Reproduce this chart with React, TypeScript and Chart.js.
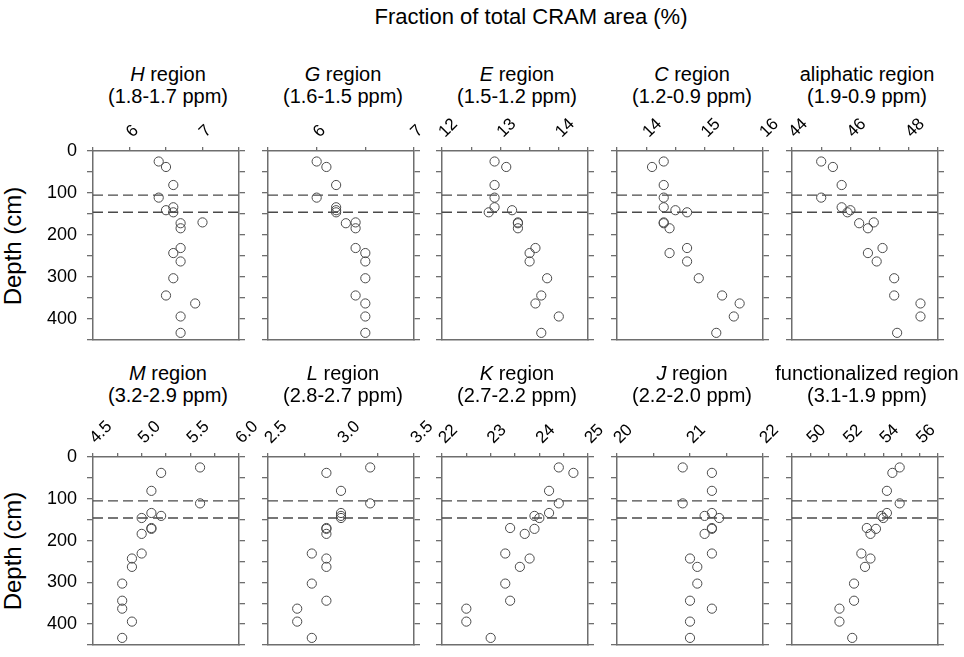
import { useEffect, useRef } from 'react';
import { Chart, registerables } from 'chart.js';

Chart.register(...registerables);

// sampling depths (cm), shared by every panel
const depths = [25, 38, 81, 111, 134, 141, 146, 170, 172, 184, 231, 243, 263, 303, 344, 363, 394, 433];
// horizons drawn as dashed lines
const boundaries = [105, 146];

// fraction of total CRAM area (%) per region, same order as depths
const hRegion = [6.4, 6.5, 6.6, 6.4, 6.6, 6.5, 6.6, 7.0, 6.7, 6.7, 6.7, 6.6, 6.7, 6.6, 6.5, 6.9, 6.7, 6.7];
const gRegion = [6.0, 6.1, 6.2, 6.0, 6.2, 6.2, 6.2, 6.4, 6.3, 6.4, 6.4, 6.5, 6.5, 6.5, 6.4, 6.5, 6.5, 6.5];
const eRegion = [12.9, 13.1, 12.9, 12.9, 12.9, 13.2, 12.8, 13.3, 13.3, 13.3, 13.6, 13.5, 13.5, 13.8, 13.7, 13.6, 14.0, 13.7];
const cRegion = [14.3, 14.1, 14.3, 14.3, 14.3, 14.5, 14.7, 14.3, 14.3, 14.4, 14.7, 14.4, 14.7, 14.9, 15.3, 15.6, 15.5, 15.2];
const aliphatic = [45.0, 45.4, 45.7, 45.0, 45.7, 46.0, 45.9, 46.8, 46.3, 46.6, 47.1, 46.6, 46.9, 47.5, 47.5, 48.4, 48.4, 47.6];
const mRegion = [5.6, 5.2, 5.1, 5.6, 5.1, 5.2, 5.0, 5.1, 5.1, 5.0, 5.0, 4.9, 4.9, 4.8, 4.8, 4.8, 4.9, 4.8];
const lRegion = [3.2, 2.9, 3.0, 3.2, 3.0, 3.0, 3.0, 2.9, 2.9, 2.9, 2.8, 2.9, 2.9, 2.8, 2.9, 2.7, 2.7, 2.8];
const kRegion = [24.4, 24.7, 24.2, 24.4, 24.2, 23.9, 24.0, 23.4, 23.9, 23.7, 23.3, 23.8, 23.6, 23.3, 23.4, 22.5, 22.5, 23.0];
const jRegion = [20.9, 21.3, 21.3, 20.9, 21.3, 21.2, 21.4, 21.3, 21.3, 21.2, 21.3, 21.0, 21.1, 21.1, 21.0, 21.3, 21.0, 21.0];
const functionalized = [54.9, 54.5, 54.2, 54.9, 54.2, 53.9, 54.0, 53.1, 53.6, 53.3, 52.8, 53.3, 53.0, 52.4, 52.4, 51.6, 51.6, 52.3];

// labelled x ticks
const hTicks = ['6', '7'];
const gTicks = ['6', '7'];
const eTicks = ['12', '13', '14'];
const cTicks = ['14', '15', '16'];
const aliphaticTicks = ['44', '46', '48'];
const mTicks = ['4.5', '5.0', '5.5', '6.0'];
const lTicks = ['2.5', '3.0', '3.5'];
const kTicks = ['22', '23', '24', '25'];
const jTicks = ['20', '21', '22'];
const functionalizedTicks = ['50', '52', '54', '56'];

const depthLabels = ['0', '100', '200', '300', '400'];

type PanelSpec = {
  letter?: string;
  name: string;
  ppm: string;
  values: number[];
  labels: string[];
  min: number;
  max: number;
  step: number;
};

const topRow: PanelSpec[] = [
  { letter: 'H', name: ' region', ppm: '(1.8-1.7 ppm)', values: hRegion, labels: hTicks, min: 5.5, max: 7.5, step: 0.5 },
  { letter: 'G', name: ' region', ppm: '(1.6-1.5 ppm)', values: gRegion, labels: gTicks, min: 5.5, max: 7, step: 0.5 },
  { letter: 'E', name: ' region', ppm: '(1.5-1.2 ppm)', values: eRegion, labels: eTicks, min: 12, max: 14.5, step: 0.5 },
  { letter: 'C', name: ' region', ppm: '(1.2-0.9 ppm)', values: cRegion, labels: cTicks, min: 13.5, max: 16, step: 0.5 },
  { name: 'aliphatic region', ppm: '(1.9-0.9 ppm)', values: aliphatic, labels: aliphaticTicks, min: 44, max: 49, step: 1 },
];

const bottomRow: PanelSpec[] = [
  { letter: 'M', name: ' region', ppm: '(3.2-2.9 ppm)', values: mRegion, labels: mTicks, min: 4.5, max: 6, step: 0.25 },
  { letter: 'L', name: ' region', ppm: '(2.8-2.7 ppm)', values: lRegion, labels: lTicks, min: 2.5, max: 3.5, step: 0.25 },
  { letter: 'K', name: ' region', ppm: '(2.7-2.2 ppm)', values: kRegion, labels: kTicks, min: 22, max: 25, step: 0.5 },
  { letter: 'J', name: ' region', ppm: '(2.2-2.0 ppm)', values: jRegion, labels: jTicks, min: 20, max: 22, step: 0.5 },
  { name: 'functionalized region', ppm: '(3.1-1.9 ppm)', values: functionalized, labels: functionalizedTicks, min: 49, max: 57, step: 1 },
];

const FONT = "Arial, 'Liberation Sans', Helvetica, sans-serif";
const AXIS = '#6e6e6e';
const MARK = '#4a4a4a';

const COL_LEFT = [93, 268, 442, 617, 792];
const BOX_W = 146;
const ROWS = [
  { top: 151, height: 189, titleTop: 63, depthMid: 246 },
  { top: 457, height: 188, titleTop: 362, depthMid: 551 },
];

// room around the plot box inside each canvas
const PAD_L = 60;
const PAD_R = 36;
const PAD_T = 50;
const PAD_B = 8;

function Panel({ spec, left, top, height, showY }: { spec: PanelSpec; left: number; top: number; height: number; showY: boolean }) {
  const canvasRef = useRef<HTMLCanvasElement>(null);
  const w = PAD_L + BOX_W + PAD_R;
  const h = PAD_T + height + PAD_B;

  useEffect(() => {
    if (!canvasRef.current) return;
    const yGrid = { display: true, drawOnChartArea: false, drawTicks: true, tickLength: 6, color: AXIS, lineWidth: 1.3 };
    const border = { display: true, color: AXIS, width: 1.5 };

    const chart = new Chart(canvasRef.current, {
      type: 'scatter',
      data: {
        datasets: [
          {
            data: spec.values.map((v, i) => ({ x: v, y: depths[i] })),
            xAxisID: 'x',
            yAxisID: 'y',
            pointRadius: 4.6,
            pointBorderWidth: 1,
            pointBorderColor: MARK,
            pointBackgroundColor: 'rgba(0,0,0,0)',
            showLine: false,
          },
          ...boundaries.map(b => ({
            data: [{ x: spec.min, y: b }, { x: spec.max, y: b }],
            xAxisID: 'x',
            yAxisID: 'y',
            showLine: true,
            borderColor: MARK,
            borderWidth: 1.4,
            borderDash: [10, 5],
            pointRadius: 0,
          })),
        ],
      },
      options: {
        animation: false,
        responsive: false,
        events: [],
        layout: { padding: 0 },
        plugins: { legend: { display: false }, tooltip: { enabled: false } },
        scales: {
          x: {
            type: 'linear',
            position: 'top',
            min: spec.min,
            max: spec.max,
            afterFit: (s: any) => { s.height = PAD_T; s.paddingLeft = 0; s.paddingRight = 0; },
            ticks: {
              stepSize: spec.step,
              autoSkip: false,
              minRotation: 45,
              maxRotation: 45,
              padding: 5,
              labelOffset: 14,
              color: '#000',
              font: { family: FONT, size: 17 },
              callback: (v: any) => spec.labels.find(l => Math.abs(Number(l) - Number(v)) < 1e-6) ?? '',
            },
            grid: { display: true, drawOnChartArea: false, drawTicks: true, tickLength: 4, color: AXIS, lineWidth: 1.3 },
            border,
          },
          x2: {
            type: 'linear',
            position: 'bottom',
            min: spec.min,
            max: spec.max,
            afterFit: (s: any) => { s.height = PAD_B; s.paddingLeft = 0; s.paddingRight = 0; },
            ticks: { display: false },
            grid: { display: false },
            border,
          },
          y: {
            type: 'linear',
            position: 'left',
            reverse: true,
            min: 0,
            max: 450,
            afterFit: (s: any) => { s.width = PAD_L; s.paddingTop = 0; s.paddingBottom = 0; },
            ticks: {
              display: showY,
              stepSize: 50,
              autoSkip: false,
              padding: 10,
              color: '#000',
              font: { family: FONT, size: 18 },
              callback: (v: any) => depthLabels.includes(String(v)) ? String(v) : '',
            },
            grid: yGrid,
            border,
          },
          y2: {
            type: 'linear',
            position: 'right',
            reverse: true,
            min: 0,
            max: 450,
            afterFit: (s: any) => { s.width = PAD_R; s.paddingTop = 0; s.paddingBottom = 0; },
            ticks: { display: false, stepSize: 50, autoSkip: false },
            grid: yGrid,
            border,
          },
        },
      } as any,
    });

    return () => { chart.destroy(); };
  }, [spec, showY]);

  return (
    <canvas
      ref={canvasRef}
      width={w}
      height={h}
      style={{ position: 'absolute', left: left - PAD_L, top: top - PAD_T, width: w, height: h }}
    />
  );
}

function Title({ spec, center, top }: { spec: PanelSpec; center: number; top: number }) {
  return (
    <div style={{ position: 'absolute', left: center, top, transform: 'translateX(-50%)', textAlign: 'center', whiteSpace: 'nowrap', fontSize: 20, lineHeight: '22px' }}>
      <div>{spec.letter ? <i>{spec.letter}</i> : null}{spec.name}</div>
      <div>{spec.ppm}</div>
    </div>
  );
}

export default function App() {
  const rows = [topRow, bottomRow];
  return (
    <div style={{ position: 'absolute', left: 0, top: 0, width: 964, height: 657, background: '#fff', fontFamily: FONT, color: '#000', overflow: 'hidden' }}>
      <div style={{ position: 'absolute', left: 531, top: 4, transform: 'translateX(-50%)', fontSize: 22, lineHeight: 1.15, whiteSpace: 'nowrap' }}>
        Fraction of total CRAM area (%)
      </div>
      {rows.map((row, r) => (
        <div key={r}>
          <div style={{ position: 'absolute', left: 13, top: ROWS[r].depthMid, transform: 'translate(-50%, -50%) rotate(-90deg)', fontSize: 24, lineHeight: 1, whiteSpace: 'nowrap' }}>
            Depth (cm)
          </div>
          {row.map((spec, c) => (
            <div key={c}>
              <Title spec={spec} center={COL_LEFT[c] + BOX_W / 2 + 2} top={ROWS[r].titleTop} />
              <Panel spec={spec} left={COL_LEFT[c]} top={ROWS[r].top} height={ROWS[r].height} showY={c === 0} />
            </div>
          ))}
        </div>
      ))}
    </div>
  );
}
